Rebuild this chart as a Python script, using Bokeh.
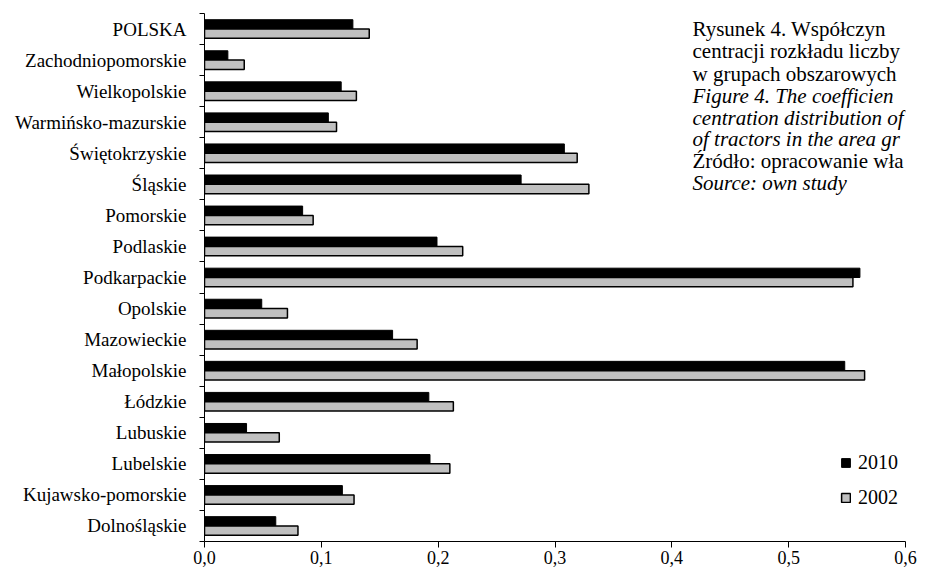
from bokeh.plotting import figure
from bokeh.models import ColumnDataSource, FixedTicker, Range1d, Legend, LegendItem, Label
from bokeh.embed import file_html
from bokeh.resources import INLINE

regions = ["POLSKA", "Zachodniopomorskie", "Wielkopolskie", "Warmińsko-mazurskie",
           "Świętokrzyskie", "Śląskie", "Pomorskie", "Podlaskie", "Podkarpackie",
           "Opolskie", "Mazowieckie", "Małopolskie", "Łódzkie", "Lubuskie",
           "Lubelskie", "Kujawsko-pomorskie", "Dolnośląskie"]
v2010 = [0.127, 0.020, 0.117, 0.106, 0.308, 0.271, 0.084, 0.199, 0.561,
         0.049, 0.161, 0.548, 0.192, 0.036, 0.193, 0.118, 0.061]
v2002 = [0.141, 0.034, 0.130, 0.113, 0.319, 0.329, 0.093, 0.221, 0.555,
         0.071, 0.182, 0.565, 0.213, 0.064, 0.210, 0.128, 0.080]
x_ticks = [0.0, 0.1, 0.2, 0.3, 0.4, 0.5, 0.6]
x_tick_labels = ["0,0", "0,1", "0,2", "0,3", "0,4", "0,5", "0,6"]
series_names = ["2010", "2002"]
caption = [
    ("Rysunek 4. Współczyn", "normal"),
    ("centracji rozkładu liczby", "normal"),
    ("w grupach obszarowych", "normal"),
    ("Figure 4. The coefficien", "italic"),
    ("centration distribution of", "italic"),
    ("of tractors in the area gr", "italic"),
    ("Źródło: opracowanie wła", "normal"),
    ("Source: own study", "italic"),
]

FONT = "Liberation Serif"
n = len(regions)
centers = [n - 1 - i + 0.5 for i in range(n)]
src = ColumnDataSource(dict(
    region=regions,
    y10=[c + 0.15 for c in centers],
    y02=[c - 0.15 for c in centers],
    v2010=v2010,
    v2002=v2002,
))

W, H = 917, 568
LEFT, TOP, BOTTOM, RIGHT = 204, 13, 27, 12
p = figure(width=W, height=H, output_backend="svg", toolbar_location=None,
           x_range=Range1d(0, 0.6), y_range=Range1d(0, n),
           min_border_left=LEFT, min_border_right=RIGHT,
           min_border_top=TOP, min_border_bottom=BOTTOM)
p.outline_line_color = None
p.grid.visible = False
p.background_fill_color = "white"
p.border_fill_color = "white"

r10 = p.hbar(y="y10", right="v2010", left=0, height=0.3, source=src,
             fill_color="black", line_color="black", line_width=1)
r02 = p.hbar(y="y02", right="v2002", left=0, height=0.3, source=src,
             fill_color="#c0c0c0", line_color="black", line_width=1.5)

# x axis
xa = p.xaxis[0]
xa.ticker = FixedTicker(ticks=x_ticks, minor_ticks=[])
xa.major_label_overrides = {t: l for t, l in zip(x_ticks, x_tick_labels)}
xa.major_tick_in = 0
xa.major_tick_out = 6
xa.minor_tick_out = 0
xa.minor_tick_in = 0
xa.major_label_standoff = 3
xa.major_label_text_font = FONT
xa.major_label_text_font_size = "18px"
xa.major_label_text_color = "black"
xa.axis_line_color = "black"
xa.major_tick_line_color = "black"

# y axis: labels at category centers, tick marks at boundaries
ya = p.yaxis[0]
ya.ticker = FixedTicker(ticks=centers, minor_ticks=[float(i) for i in range(n + 1)])
ya.major_label_overrides = {c: r for c, r in zip(centers, regions)}
ya.major_tick_in = 0
ya.major_tick_out = 0
ya.minor_tick_in = 0
ya.minor_tick_out = 5
ya.minor_tick_line_color = "black"
ya.major_label_standoff = 13
ya.major_label_text_font = FONT
ya.major_label_text_font_size = "19px"
ya.major_label_text_color = "black"
ya.axis_line_color = "black"

legend = Legend(items=[LegendItem(label=series_names[0], renderers=[r10]),
                       LegendItem(label=series_names[1], renderers=[r02])],
                location=(636, 32), orientation="vertical",
                glyph_width=11, glyph_height=11, label_height=20,
                label_standoff=7, spacing=12, padding=0, margin=0,
                border_line_color=None, background_fill_alpha=0,
                label_text_font=FONT, label_text_font_size="20px",
                label_text_color="black")
p.add_layout(legend)

# caption text (top right), positioned in pixels converted to data units
frame_h = H - TOP - BOTTOM
frame_w = W - LEFT - RIGHT
px_per_x = frame_w / 0.6
px_per_y = frame_h / n
baselines = [28, 50, 73, 95, 117, 138, 160, 182]
for (txt, style), by in zip(caption, baselines):
    p.add_layout(Label(x=(692 - LEFT) / px_per_x, y=n - (by - TOP) / px_per_y,
                       text=txt, text_font=FONT, text_font_size="21px",
                       text_font_style=style, text_color="black",
                       text_baseline="alphabetic", text_align="left"))

open("out.html", "w").write(file_html(p, INLINE))
